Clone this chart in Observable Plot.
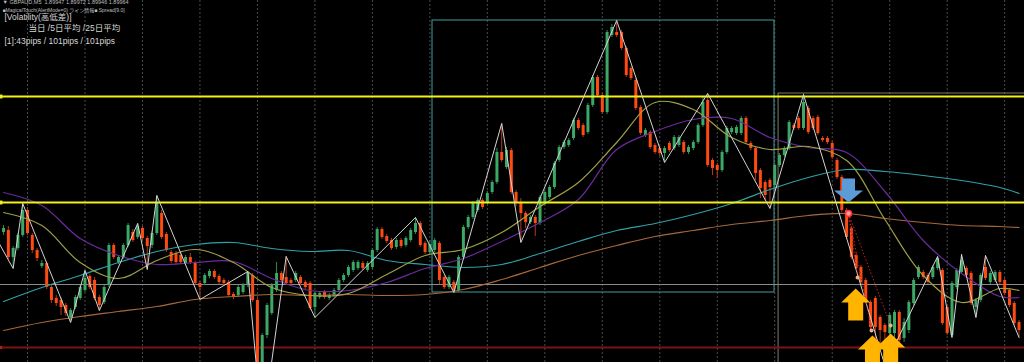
<!DOCTYPE html>
<html><head><meta charset="utf-8">
<script src="https://cdn.jsdelivr.net/npm/d3@7"></script>
<script src="https://cdn.jsdelivr.net/npm/@observablehq/plot@0.6"></script>
<style>
html,body{margin:0;padding:0;background:#000;overflow:hidden;}
#chart{width:1024px;height:362px;}
</style></head><body><div id="chart"></div>
<script>
// GBPAUD M5 candles (price level units, 1 unit = 1/4 pip)
const open = [168,170,143,152,165,190,165,150,134,137,
113,102,100,95,83,93,102,110,124,120,
103,98,115,155,138,143,155,168,163,172,
162,155,167,187,166,148,147,145,137,143,
137,117,117,124,129,124,120,118,106,105,
108,115,125,100,5,65,87,110,127,123,
120,120,123,118,117,93,103,108,102,105,
110,120,125,130,132,137,130,133,150,171,
164,160,153,160,155,160,168,177,157,148,
150,157,123,113,118,110,143,173,183,190,
200,198,208,218,248,233,250,208,197,187,
178,183,177,197,203,213,240,253,255,262,
280,275,268,295,323,305,288,365,368,368,
352,332,320,293,265,268,255,252,247,257,
252,255,258,248,252,258,275,300,240,235,
230,248,268,267,267,282,257,252,230,218,
220,215,235,245,252,275,282,272,292,282,
283,262,262,257,240,223,190,172,145,133,
120,98,102,83,75,67,67,88,62,70,
97,123,128,125,123,132,130,93,65,113,
128,132,127,93,100,133,118,120,128,120,
110,97,78];
const close = [172,143,152,165,190,167,150,142,137,113,
100,97,93,87,90,103,113,122,113,102,
95,113,155,143,143,155,175,160,174,162,
154,167,197,163,150,139,138,138,143,138,
117,113,125,129,123,118,117,105,103,113,
115,128,100,5,65,95,115,127,120,117,
117,127,117,113,92,107,107,103,105,110,
120,125,133,138,138,132,137,150,171,163,
159,152,160,154,162,170,177,155,148,156,
160,120,113,123,110,143,173,183,197,200,
193,207,218,248,240,250,208,197,187,178,
183,177,203,208,213,237,253,258,260,280,
272,265,295,323,305,288,368,373,365,352,
325,322,292,267,270,253,248,247,252,250,
263,263,248,253,258,275,298,235,232,230,
248,272,272,273,282,258,252,227,212,205,
213,235,245,252,278,272,272,298,268,272,
267,260,258,243,223,190,163,143,132,118,
100,73,73,70,68,85,88,60,78,98,
120,133,123,118,133,142,77,67,117,130,
140,125,97,100,125,122,127,128,118,107,
95,77,70];
const high = [175,174,154,167,197,193,167,152,140,139,
115,105,103,97,92,105,115,130,126,123,
105,115,157,157,145,157,177,171,177,174,
164,169,205,190,168,150,149,148,145,147,
139,119,127,131,131,126,122,120,108,115,
117,129,127,102,67,97,117,138,129,144,
122,129,125,120,119,109,109,110,107,112,
122,127,135,140,140,139,139,152,173,173,
166,162,162,162,164,172,183,179,159,160,
162,159,125,125,120,145,175,185,199,202,
202,209,220,252,277,253,252,210,202,189,
185,185,205,210,215,239,255,260,262,282,
282,277,297,325,325,307,370,376,380,370,
354,334,322,295,272,270,257,254,254,259,
265,265,260,255,260,277,303,307,242,237,
250,274,274,275,284,284,259,254,232,220,
222,237,247,254,280,277,284,307,294,284,
285,264,264,259,242,225,192,174,147,135,
122,100,104,85,77,87,90,90,82,100,
122,135,130,127,135,144,132,95,119,132,
146,134,129,102,127,145,129,130,130,122,
112,99,80];
const low = [165,141,132,150,163,165,147,139,132,111,
97,94,85,84,78,91,100,108,111,100,
90,96,113,141,136,141,153,158,161,160,
131,152,165,161,148,137,135,136,135,136,
115,101,115,122,121,116,115,103,101,103,
106,113,98,0,-30,62,85,108,118,115,
115,118,115,111,90,83,101,101,100,103,
108,118,123,128,130,130,128,131,148,161,
157,150,151,152,153,158,166,153,146,146,
148,116,111,111,108,108,141,171,181,188,
191,196,206,216,238,231,206,194,158,172,
176,164,175,195,201,211,238,251,253,260,
270,263,266,293,303,286,286,363,363,350,
323,320,290,265,263,251,246,244,238,248,
250,253,246,246,250,256,273,233,225,222,
228,246,266,265,265,256,250,220,202,200,
192,213,233,243,250,270,270,270,266,270,
265,258,256,241,221,188,161,141,130,116,
98,71,60,50,35,42,60,55,58,67,
95,121,121,116,121,130,75,65,63,111,
126,123,95,83,98,120,116,118,116,105,
93,75,63];

// moving averages sampled at candle indices
const maIndex = [0,8,16,24,32,40,48,56,64,72,80,88,96,104,112,120,128,136,144,152,160,168,176,184,192,200,208,212];
const maFast = [188,175,138,122,140,151,138,113,105,107,126,145,151,168,194,218,258,298,291,263,251,254,240,181,125,98,112,110];
const maMid  = [208,195,162,145,136,138,139,122,110,110,118,132,142,159,178,201,251,269,281,282,263,253,248,209,160,127,104,103];
const maSlow = [99,113,125,138,149,156,158,152,149,150,140,136,133,136,147,159,170,177,186,197,211,223,231,229,225,220,213,207];
const maLong = [70,78,84,89,94,101,104,106,105,106,105,106,111,121,133,145,155,164,170,176,180,185,187,182,178,175,174,173];

// zigzag pivots
const zigIndex = [-3,2,4,14,17,20,28,30,32,41,51,54,59,65,86,94,104,108,128,138,147,160,167,184,195,198,200,203,205,212];
const zigLevel = [175,132,197,78,130,90,177,131,205,101,129,-30,144,83,183,108,277,158,380,238,307,192,306,35,144,63,146,83,145,63];

// horizontal levels
const resistanceLevels = [304,198];
const grayLevel = [116];
const redLevel = [53];

// boxes (candle index / price level)
const rangeBox = [{from:89.55, to:160.95, bottom:108, top:380}];
const tradeBox = [{from:161.8, to:215, bottom:20, top:307}];

// signals
const signalFrom = [{i:176.4, v:187}];
const signalTargets = [{i:178.3, v:123},{i:181.2, v:70},{i:185.2, v:75}];
const sellArrows = [{i:176.4, v:198}];
const buyArrows = [{i:177.9, v:112},{i:181.4, v:65},{i:185.2, v:67}];

// texts
const headerLines = ["▼ GBPAUD,M5  1.89947 1.89972 1.89946 1.89964", "■MagicalTouch(AlertMode=0) ライン情報■ Spread[9.0]"];
const volLines = ["[Volatility(高低差)]", "当日 /5日平均 /25日平均", "[1]:43pips / 101pips / 101pips"];

const candles = open.map((o, i) => ({i, open:o, close:close[i], high:high[i], low:low[i], up: close[i] >= o}));
const zigzag = zigIndex.map((i, k) => ({i, v: zigLevel[k]}));
const ma = (vals) => maIndex.map((i, k) => ({i, v: vals[k]}));
const links = signalTargets.map(t => ({x1: signalFrom[0].i, y1: signalFrom[0].v, x2: t.i, y2: t.v}));

const arrowUp = {draw(ctx){ ctx.moveTo(0,0); ctx.lineTo(14.5,14); ctx.lineTo(7.5,14); ctx.lineTo(7.5,32); ctx.lineTo(-7.5,32); ctx.lineTo(-7.5,14); ctx.lineTo(-14.5,14); ctx.closePath(); }};
const arrowDown = {draw(ctx){ ctx.moveTo(0,0); ctx.lineTo(14.5,-12); ctx.lineTo(6.5,-12); ctx.lineTo(6.5,-24); ctx.lineTo(-6.5,-24); ctx.lineTo(-6.5,-12); ctx.lineTo(-14.5,-12); ctx.closePath(); }};

const BULL = "#3ba866", BEAR = "#ff4a12";
const font = "'Liberation Sans', 'Noto Sans CJK JP', sans-serif";

const plot = Plot.plot({
  width: 1024, height: 362, margin: 0,
  style: {background: "#000", overflow: "hidden"},
  x: {domain: [-0.637, 213.14], axis: null},
  y: {domain: [38, 400], axis: null},
  marks: [
    Plot.ruleX(d3.range(5, 213, 12), {stroke: "#4a4a4a", strokeDasharray: "2,2"}),
    Plot.rect(rangeBox, {x1: "from", x2: "to", y1: "bottom", y2: "top", stroke: "#3f9e9e", fill: "none", strokeWidth: 1}),
    Plot.rect(tradeBox, {x1: "from", x2: "to", y1: "bottom", y2: "top", stroke: "#7c7c68", fill: "none", strokeWidth: 1}),
    Plot.ruleY(grayLevel, {stroke: "#8a8a8a", strokeWidth: 1}),
    Plot.ruleY(redLevel, {stroke: "#7d1414", strokeWidth: 2}),
    Plot.ruleX(candles, {x: "i", y1: "low", y2: "high", stroke: d => d.up ? "#2f8a52" : "#b23a1c", strokeWidth: 1}),
    Plot.ruleX(candles, {x: "i", y1: "open", y2: "close", stroke: d => d.up ? BULL : BEAR, strokeWidth: 3}),
    Plot.line(ma(maLong), {x: "i", y: "v", stroke: "#a8683a", strokeWidth: 1.2, curve: "catmull-rom"}),
    Plot.line(ma(maSlow), {x: "i", y: "v", stroke: "#2fa0a6", strokeWidth: 1.2, curve: "catmull-rom"}),
    Plot.line(ma(maMid), {x: "i", y: "v", stroke: "#6a2b9c", strokeWidth: 1.2, curve: "catmull-rom"}),
    Plot.line(ma(maFast), {x: "i", y: "v", stroke: "#9f9f44", strokeWidth: 1.2, curve: "catmull-rom"}),
    Plot.ruleY(resistanceLevels, {stroke: "#f2f21a", strokeWidth: 2}),
    Plot.dot(resistanceLevels, {y: d => d, frameAnchor: "left", symbol: "square", r: 2.2, fill: "#f2f21a"}),
    Plot.dot(redLevel, {y: d => d, frameAnchor: "left", symbol: "square", r: 1.8, fill: "#b02020"}),
    Plot.line(zigzag, {x: "i", y: "v", stroke: "#d4d4d4", strokeWidth: 1}),
    Plot.link(links, {x1: "x1", y1: "y1", x2: "x2", y2: "y2", stroke: "#c82020", strokeDasharray: "1.5,2", strokeWidth: 1}),
    Plot.dot(signalTargets, {x: "i", y: "v", r: 2, fill: "#e8b48c"}),
    Plot.dot(signalFrom, {x: "i", y: "v", r: 3, fill: "#ff9a9a", stroke: "#ff3030"}),
    Plot.dot(sellArrows, {x: "i", y: "v", symbol: arrowDown, fill: "#5b9bd8"}),
    Plot.dot(buyArrows, {x: "i", y: "v", symbol: arrowUp, fill: "#ffb400"}),
    Plot.text([headerLines[0]], {text: d => d, frameAnchor: "top-left", dx: 2, dy: 0, textAnchor: "start", lineAnchor: "top", fontSize: 5.5, fill: "#bdbdbd", fontFamily: font}),
    Plot.text([headerLines[1]], {text: d => d, frameAnchor: "top-left", dx: 2, dy: 7.5, textAnchor: "start", lineAnchor: "top", fontSize: 5, fill: "#bdbdbd", fontFamily: font}),
    Plot.text([volLines[0]], {text: d => d, frameAnchor: "top-left", dx: 4, dy: 13, textAnchor: "start", lineAnchor: "top", fontSize: 8.5, fill: "#d6d6d6", fontFamily: font}),
    Plot.text([volLines[1]], {text: d => d, frameAnchor: "top-left", dx: 28, dy: 24, textAnchor: "start", lineAnchor: "top", fontSize: 8.5, fill: "#d6d6d6", fontFamily: font}),
    Plot.text([volLines[2]], {text: d => d, frameAnchor: "top-left", dx: 4, dy: 37, textAnchor: "start", lineAnchor: "top", fontSize: 8.5, fill: "#d6d6d6", fontFamily: font})
  ]
});
document.getElementById("chart").append(plot);
</script>
</body></html>
